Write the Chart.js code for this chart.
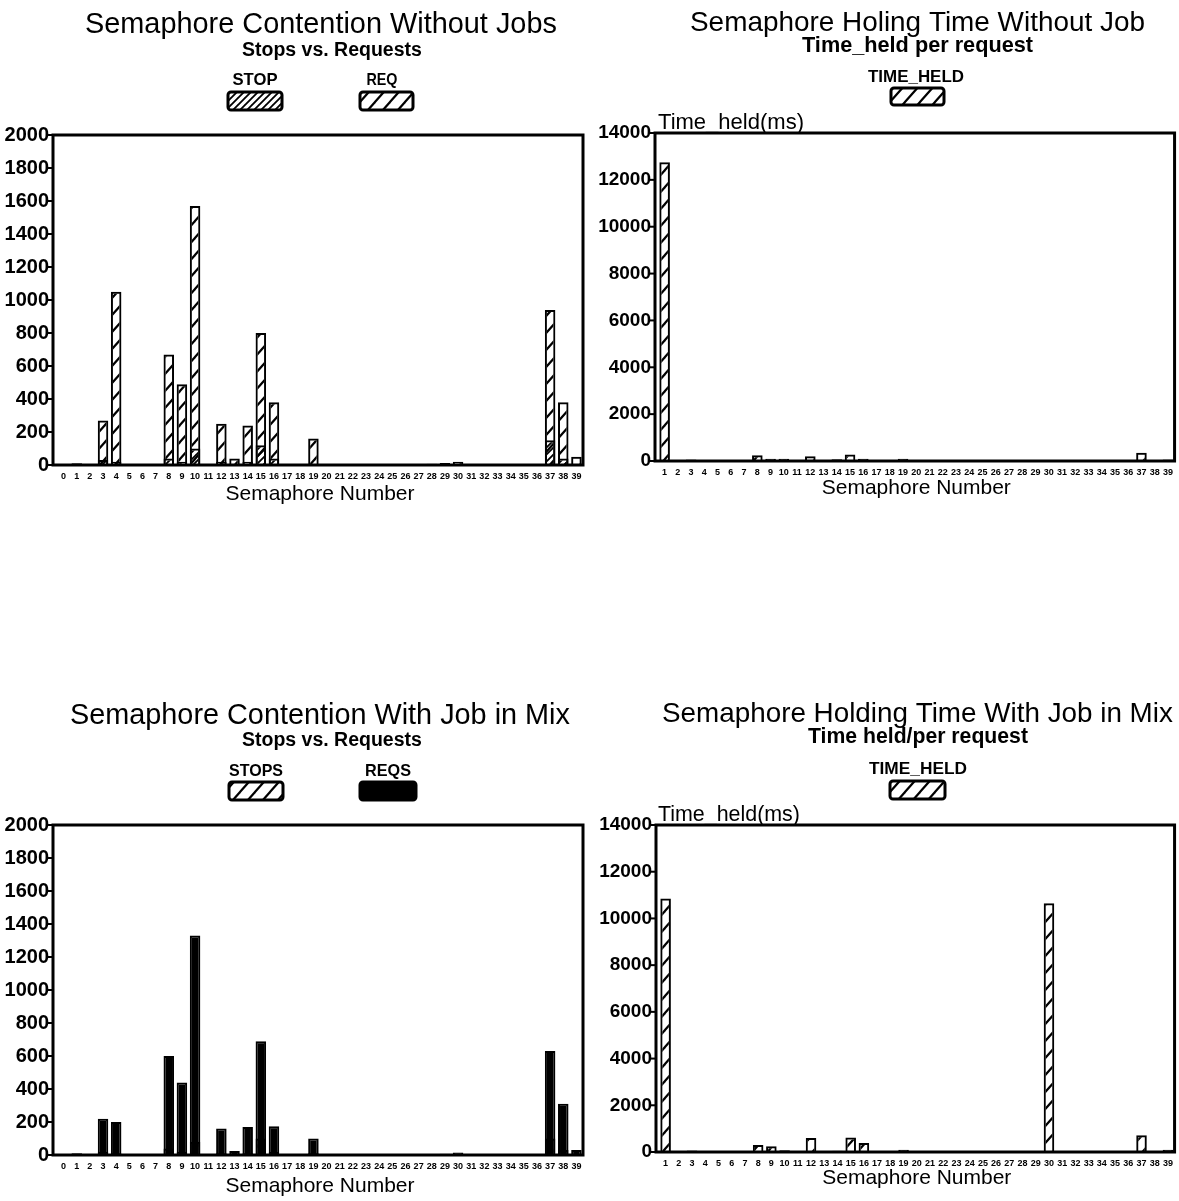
<!DOCTYPE html>
<html><head><meta charset="utf-8">
<script src="https://cdn.jsdelivr.net/npm/chart.js@4"></script>
<style>
html,body{margin:0;padding:0;background:#fff;}
body{width:1179px;height:1201px;position:relative;overflow:hidden;}
canvas{position:absolute;}
</style></head><body>
<canvas id="c1" width="590" height="510" style="left:0px;top:0px"></canvas>
<canvas id="c2" width="589" height="510" style="left:590px;top:0px"></canvas>
<canvas id="c3" width="590" height="511" style="left:0px;top:690px"></canvas>
<canvas id="c4" width="589" height="511" style="left:590px;top:690px"></canvas>
<script>
// ---------- DATA ----------
const semaphoresFrom0 = ["0","1","2","3","4","5","6","7","8","9","10","11","12","13","14","15","16","17","18","19","20","21","22","23","24","25","26","27","28","29","30","31","32","33","34","35","36","37","38","39"];
const semaphoresFrom1 = ["1","2","3","4","5","6","7","8","9","10","11","12","13","14","15","16","17","18","19","20","21","22","23","24","25","26","27","28","29","30","31","32","33","34","35","36","37","38","39"];

// Chart 1: Semaphore Contention Without Jobs (index = semaphore 0..39)
const noJobStops    = [0,0,0,30,20,0,0,0,40,20,100,0,20,0,20,120,40,0,0,0,0,0,0,0,0,0,0,0,0,0,0,0,0,0,0,0,0,150,40,0];
const noJobRequests = [0,10,0,270,1050,0,0,0,670,490,1570,0,250,40,240,800,380,0,0,160,0,0,0,0,0,0,0,5,8,12,20,0,0,0,0,0,0,940,380,50];

// Chart 2: Semaphore Holing Time Without Job (index = semaphore 1..39)
const noJobTimeHeld = [12750,0,60,0,0,0,0,250,100,100,0,200,0,80,280,100,0,0,100,0,0,0,0,0,0,0,0,0,40,0,0,0,0,0,0,0,350,0,60];

// Chart 3: Semaphore Contention With Job in Mix (index = semaphore 0..39)
const mixStops    = [0,0,0,20,10,0,0,0,40,20,80,0,10,0,10,100,20,0,0,10,0,0,0,0,0,0,0,0,0,0,0,0,0,0,0,0,0,100,30,0];
const mixRequests = [0,10,0,220,200,0,0,0,600,440,1330,0,160,25,170,690,175,0,0,100,0,0,0,0,0,0,0,0,0,8,15,5,5,5,5,5,0,630,310,30];

// Chart 4: Semaphore Holding Time With Job in Mix (index = semaphore 1..39)
const mixTimeHeld = [10850,0,60,0,0,0,0,300,250,80,0,600,0,50,620,380,0,0,100,0,0,0,0,0,0,0,0,0,0,10650,0,0,0,0,0,0,720,0,100];

// Tick labels
const contentionTicks = [0,200,400,600,800,1000,1200,1400,1600,1800,2000];
const holdingTicks = [0,2000,4000,6000,8000,10000,12000,14000];

// ---------- PATTERNS ----------
function hatch(w, h, lw) {
  const c = document.createElement('canvas');
  c.width = w; c.height = h;
  const g = c.getContext('2d');
  g.strokeStyle = '#000'; g.lineWidth = lw; g.lineCap = 'square';
  for (let k = -1; k <= 1; k++) {
    g.beginPath(); g.moveTo(k * w, h); g.lineTo(k * w + w, 0); g.stroke();
  }
  return g.createPattern(c, 'repeat');
}
const wideHatch = hatch(15, 17, 2.2);
const denseHatch = hatch(7, 7, 1.8);

// ---------- PLUGINS ----------
function fitFont(ctx, text, weight, family, width) {
  let size = 20;
  ctx.font = weight + ' ' + size + 'px ' + family;
  const w = ctx.measureText(text).width;
  size = size * width / w;
  ctx.font = weight + ' ' + size.toFixed(2) + 'px ' + family;
}
const headingsPlugin = {
  id: 'headings',
  afterDraw(chart, args, opts) {
    const ctx = chart.ctx;
    const ox = opts.originX || 0, oy = opts.originY || 0;
    ctx.save();
    ctx.fillStyle = '#000';
    ctx.textBaseline = 'alphabetic';
    ctx.textAlign = 'left';
    for (const t of opts.texts || []) {
      fitFont(ctx, t.text, t.weight || 'normal', t.family || '"Liberation Sans"', t.width);
      ctx.fillText(t.text, t.x - ox, t.y - oy);
    }
    for (const b of opts.boxes || []) {
      const ds = chart.data.datasets[b.dataset];
      ctx.fillStyle = '#000';
      ctx.textAlign = 'center';
      ctx.font = 'bold 16.5px "Liberation Sans"';
      const mw = ctx.measureText(ds.label).width;
      const sx = b.textWidth / mw;
      ctx.save();
      ctx.translate(b.textX - ox, b.textY - oy);
      ctx.scale(sx, 1);
      ctx.fillText(ds.label, 0, 0);
      ctx.restore();
      ctx.fillStyle = ds.backgroundColor;
      ctx.beginPath();
      ctx.roundRect(b.x - ox, b.y - oy, b.w, b.h, 3);
      ctx.fill();
      ctx.lineWidth = 3; ctx.strokeStyle = '#000';
      ctx.stroke();
    }
    ctx.restore();
  }
};
const framePlugin = {
  id: 'frame',
  afterDatasetsDraw(chart, args, opts) {
    const { left, right, top, bottom } = chart.chartArea;
    const ctx = chart.ctx;
    const fl = left - (opts.leftGap || 0);
    ctx.save();
    ctx.strokeStyle = '#000';
    ctx.lineWidth = 3;
    ctx.strokeRect(fl, top, right - fl, bottom - top);
    const ys = chart.scales.y;
    ctx.lineWidth = 2;
    for (const t of ys.ticks) {
      const py = ys.getPixelForValue(t.value);
      ctx.beginPath(); ctx.moveTo(fl - 5, py); ctx.lineTo(fl, py); ctx.stroke();
    }
    ctx.restore();
  }
};

// ---------- CHART FACTORY ----------
function makeChart(id, cfg) {
  return new Chart(document.getElementById(id), {
    type: 'bar',
    data: { labels: cfg.labels, datasets: cfg.datasets },
    options: {
      responsive: false, animation: false, devicePixelRatio: 1,
      layout: { padding: cfg.padding },
      datasets: { bar: { categoryPercentage: 0.8, barPercentage: 1, borderColor: '#000', borderWidth: 2, borderSkipped: 'start' } },
      plugins: {
        legend: { display: false }, tooltip: { enabled: false }, title: { display: false },
        headings: cfg.headings,
        frame: { leftGap: cfg.leftGap }
      },
      scales: {
        x: {
          stacked: true,
          grid: { display: false, drawTicks: false, tickLength: 0 }, border: { display: false },
          ticks: { autoSkip: false, maxRotation: 0, minRotation: 0, padding: 6, color: '#000',
                   font: { family: '"Liberation Sans Narrow","Liberation Sans"', weight: 'bold', size: 9 } },
          title: { display: true, text: 'Semaphore Number', color: '#000',
                   font: { family: '"Liberation Sans"', size: 21 }, padding: { top: 0, bottom: 0 } },
          afterFit(s) { s.height = cfg.xHeight; }
        },
        y: {
          stacked: false, min: 0, max: cfg.max,
          grid: { display: false, drawTicks: false, tickLength: 0 }, border: { display: false },
          afterBuildTicks(s) { s.ticks = cfg.ticks.map(v => ({ value: v })); },
          ticks: { padding: cfg.yPad, color: '#000', callback: (v) => String(v),
                   font: { family: '"Liberation Sans"', weight: 'bold', size: cfg.yFont } },
          afterFit(s) { s.width = cfg.yWidth; }
        }
      }
    },
    plugins: [framePlugin, headingsPlugin]
  });
}

// Chart 1
makeChart('c1', {
  labels: semaphoresFrom0,
  datasets: [
    { label: 'STOP', data: noJobStops, backgroundColor: denseHatch },
    { label: 'REQ', data: noJobRequests, backgroundColor: wideHatch }
  ],
  padding: { top: 135, right: 7, bottom: 3, left: 0 },
  xHeight: 42, yWidth: 57, yPad: 8, yFont: 20, leftGap: 4,
  max: 2000, ticks: contentionTicks,
  headings: {
    originX: 0, originY: 0,
    texts: [
      { text: 'Semaphore Contention Without Jobs', x: 85, y: 33, width: 472 },
      { text: 'Stops vs. Requests', x: 242, y: 56, width: 180, weight: 'bold' }
    ],
    boxes: [
      { dataset: 0, textX: 255, textY: 85, textWidth: 45, x: 228, y: 92, w: 54, h: 18 },
      { dataset: 1, textX: 382, textY: 85, textWidth: 31, x: 360, y: 92, w: 53, h: 18 }
    ]
  }
});

// Chart 2
makeChart('c2', {
  labels: semaphoresFrom1,
  datasets: [
    { label: 'TIME_HELD', data: noJobTimeHeld, backgroundColor: wideHatch }
  ],
  padding: { top: 133, right: 4, bottom: 9, left: 0 },
  xHeight: 40, yWidth: 68, yPad: 7, yFont: 19, leftGap: 3,
  max: 14000, ticks: holdingTicks,
  headings: {
    originX: 590, originY: 0,
    texts: [
      { text: 'Semaphore Holing Time Without Job', x: 690, y: 31, width: 455 },
      { text: 'Time_held per request', x: 802, y: 52, width: 231, weight: 'bold' },
      { text: 'Time_held(ms)', x: 658, y: 129, width: 146 }
    ],
    boxes: [
      { dataset: 0, textX: 916, textY: 82, textWidth: 96, x: 891, y: 88, w: 53, h: 17 }
    ]
  }
});

// Chart 3
makeChart('c3', {
  labels: semaphoresFrom0,
  datasets: [
    { label: 'REQS', data: mixRequests, backgroundColor: '#000', order: 0 },
    { label: 'STOPS', data: mixStops, backgroundColor: wideHatch, order: 1 }
  ],
  padding: { top: 135, right: 7, bottom: 2, left: 0 },
  xHeight: 44, yWidth: 57, yPad: 8, yFont: 20, leftGap: 4,
  max: 2000, ticks: contentionTicks,
  headings: {
    originX: 0, originY: 690,
    texts: [
      { text: 'Semaphore Contention With Job in Mix', x: 70, y: 724, width: 500 },
      { text: 'Stops vs. Requests', x: 242, y: 746, width: 180, weight: 'bold' }
    ],
    boxes: [
      { dataset: 1, textX: 256, textY: 776, textWidth: 54, x: 229, y: 782, w: 54, h: 18 },
      { dataset: 0, textX: 388, textY: 776, textWidth: 46, x: 360, y: 782, w: 56, h: 18 }
    ]
  }
});

// Chart 4
makeChart('c4', {
  labels: semaphoresFrom1,
  datasets: [
    { label: 'TIME_HELD', data: mixTimeHeld, backgroundColor: wideHatch }
  ],
  padding: { top: 135, right: 3, bottom: 10, left: 0 },
  xHeight: 39, yWidth: 69, yPad: 7, yFont: 19, leftGap: 3,
  max: 14000, ticks: holdingTicks,
  headings: {
    originX: 590, originY: 690,
    texts: [
      { text: 'Semaphore Holding Time With Job in Mix', x: 662, y: 722, width: 511 },
      { text: 'Time held/per request', x: 808, y: 743, width: 220, weight: 'bold' },
      { text: 'Time_held(ms)', x: 658, y: 821, width: 142 }
    ],
    boxes: [
      { dataset: 0, textX: 918, textY: 774, textWidth: 98, x: 890, y: 781, w: 55, h: 18 }
    ]
  }
});
</script>
</body></html>
